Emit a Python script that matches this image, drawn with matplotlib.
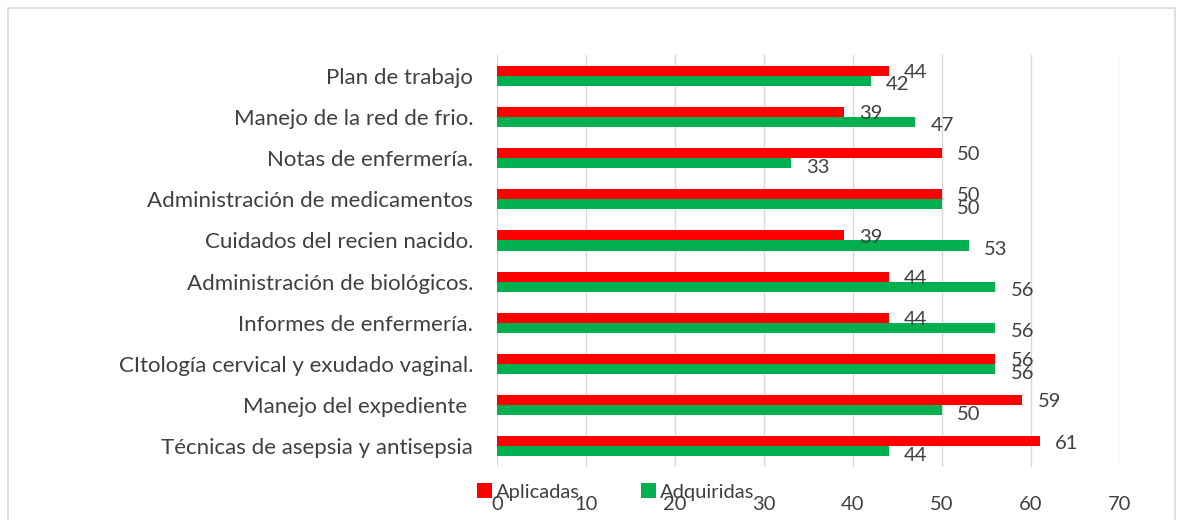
import matplotlib
matplotlib.use("Agg")
import matplotlib.pyplot as plt
from matplotlib.patches import Rectangle
import numpy as np

# categories listed bottom to top
categorias = [
    "Técnicas de asepsia y antisepsia",
    "Manejo del expediente ",
    "CItología cervical y exudado vaginal.",
    "Informes de enfermería.",
    "Administración de biológicos.",
    "Cuidados del recien nacido.",
    "Administración de medicamentos",
    "Notas de enfermería.",
    "Manejo de la red de frio.",
    "Plan de trabajo",
]
aplicadas = [61, 59, 56, 44, 44, 39, 50, 50, 39, 44]
adquiridas = [44, 50, 56, 56, 56, 53, 50, 33, 47, 42]
xticks = [0, 10, 20, 30, 40, 50, 60, 70]

rojo = "#ff0000"
verde = "#00b050"
texto = "#404040"

plt.rcParams["font.family"] = ["Lato", "DejaVu Sans"]

fig = plt.figure(figsize=(11.79, 5.2), dpi=100)
ax = fig.add_axes([0.4215, 0.102, 0.5285, 0.792])

# chart border
fig.patches.append(Rectangle((8 / 1179, -0.05), 1167 / 1179, 1 - 8 / 520 + 0.05,
                             transform=fig.transFigure, fill=False,
                             edgecolor="#d9d9d9", linewidth=1.2))

y = np.arange(len(categorias))
h = 0.245
ax.barh(y + h / 2, aplicadas, height=h, color=rojo, label="Aplicadas", zorder=3)
ax.barh(y - h / 2, adquiridas, height=h, color=verde, label="Adquiridas", zorder=3)

for yi, a, b in zip(y, aplicadas, adquiridas):
    ax.annotate(str(a), (a, yi + 0.08), xytext=(11, 0), textcoords="offset points",
                va="center", ha="left", fontsize=14.5, color=texto)
    ax.annotate(str(b), (b, yi - 0.22), xytext=(11, 0), textcoords="offset points",
                va="center", ha="left", fontsize=14.5, color=texto)

ax.set_xlim(0, 70)
ax.set_ylim(-0.5, 9.5)
ax.set_xticks(xticks)
ax.set_yticks(y)
ax.set_yticklabels(categorias)
ax.tick_params(axis="y", length=0, pad=17, labelsize=16, labelcolor=texto)
ax.tick_params(axis="x", length=0, pad=21, labelsize=14.5, labelcolor=texto)
ax.grid(axis="x", color="#d9d9d9", linewidth=1, zorder=0)
for s in ax.spines.values():
    s.set_visible(False)

ax.legend(loc="upper left", bbox_to_anchor=(-0.045, -0.02), ncol=2, frameon=False,
          fontsize=14.5, handlelength=0.75, handleheight=0.75, handletextpad=0.2,
          columnspacing=3.0, labelcolor=texto, borderaxespad=0)

fig.savefig("out.png", dpi=100)
